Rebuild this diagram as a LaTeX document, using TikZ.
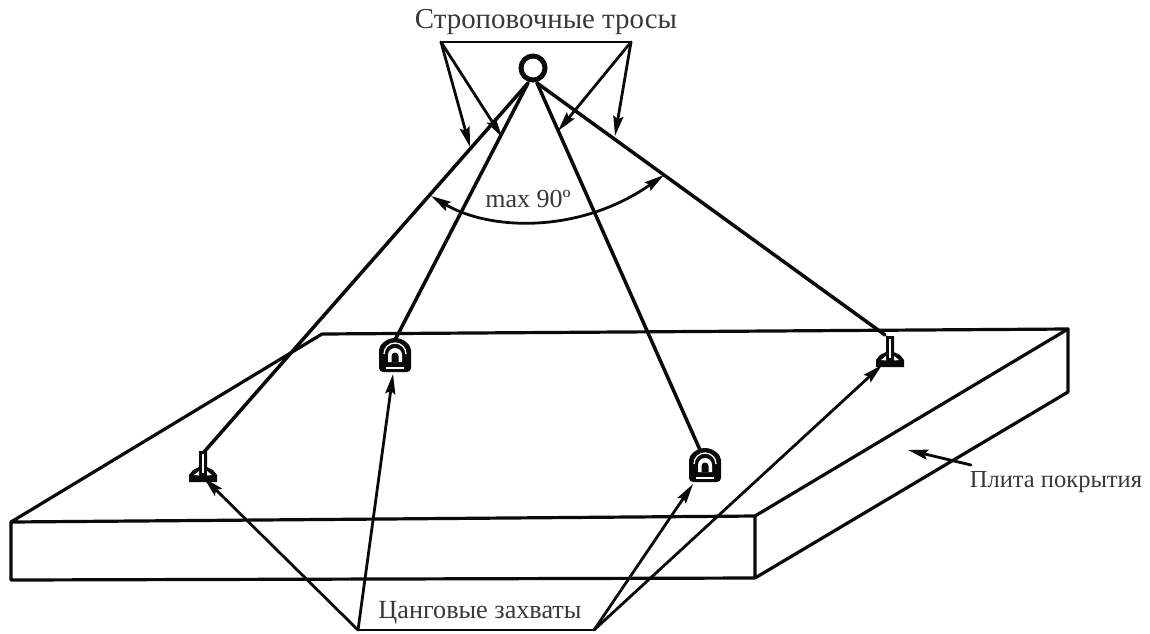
\documentclass[tikz,border=0pt]{standalone}
\usepackage{fontspec}
\setmainfont{Liberation Serif}
\usetikzlibrary{arrows.meta}
\definecolor{inkc}{HTML}{0A0A0A}
\definecolor{txtc}{HTML}{383838}
\tikzset{
  plate/.style={draw=inkc,line width=3.2pt,line join=round,line cap=round},
  cable/.style={draw=inkc,line width=3.5pt,line cap=round},
  leader/.style={draw=inkc,line width=2.8pt,line cap=round},
  tipped/.style={leader,-{Stealth[length=20pt,width=10pt,inset=3pt]}},
  lbl/.style={text=txtc,inner sep=0pt,anchor=center},
  hookring/.style={circle,draw=inkc,line width=5pt,fill=white,minimum size=24pt,inner sep=0pt},
  anchorpt/.style={inner sep=0pt,minimum size=0pt},
  pics/frontgrip/.style={code={
    \fill[inkc,rounded corners=4pt] (-16,16) -- (-16,-2) arc[start angle=180,end angle=360,radius=16] -- (16,16) -- cycle;
    \draw[white,line width=1.3pt] (-11,-2) arc[start angle=180,end angle=360,radius=11];
    \fill[white] (-7,6) -- (-7,-1) arc[start angle=180,end angle=360,radius=7] -- (7,6) -- cycle;
    \fill[inkc] (-3.5,6) -- (-3.5,0) arc[start angle=180,end angle=360,radius=3.5] -- (3.5,6) -- cycle;
    \fill[white] (-9,10.5) rectangle (9,12.5);
  }},
  pics/sidegrip/.style={code={
    \fill[inkc] (-4,-18) -- (4,-18) -- (4,-2) -- (10,1) -- (14,6) -- (14,13) -- (-14,13) -- (-14,6) -- (-10,1) -- (-4,-2) -- cycle;
    \fill[white] (-0.9,-15) rectangle (0.9,4);
    \fill[white] (-9,6) -- (-4,2) -- (-4,6.5) -- cycle;
    \fill[white] (9,6) -- (4,2) -- (4,6.5) -- cycle;
  }}
}
\begin{document}
\begin{tikzpicture}[x=1pt,y=-1pt]
\useasboundingbox (0,0) rectangle (1150,633);
% plate corners
\coordinate (pa) at (322,334);
\coordinate (pb) at (1068,329);
\coordinate (pc) at (755,516);
\coordinate (pd) at (11,522);
\coordinate (pe) at (11,580);
\coordinate (pf) at (755,578);
\coordinate (pg) at (1068,392);
\path[plate] (pa) -- (pb) -- (pc) -- (pd) -- cycle;
\path[plate] (pd) -- (pe) -- (pf) -- (pc);
\path[plate] (pf) -- (pg) -- (pb);
% hook and grips
\node[anchorpt] (gripA) at (204,452) {};
\node[anchorpt] (gripB) at (395,340) {};
\node[anchorpt] (gripC) at (700,450) {};
\node[anchorpt] (gripD) at (885,335) {};
\node[anchorpt] (hookL) at (528,83) {};
\node[anchorpt] (hookR) at (537,83) {};
\path[cable] (hookL.center) -- (gripA.center);
\path[cable] (hookL.center) -- (gripB.center);
\path[cable] (hookR.center) -- (gripC.center);
\path[cable] (hookR.center) -- (gripD.center);
\node[hookring] (hook) at (533,68) {};
\pic at (203,469) {sidegrip};
\pic at (395,356) {frontgrip};
\pic at (705,466) {frontgrip};
\pic at (890,354) {sidegrip};
% top labels and leaders
\node[lbl,font=\fontsize{28.9}{32}\selectfont] (ttop) at (546,22) {Строповочные тросы};
\coordinate (tl) at (441,42);
\coordinate (tr) at (631,42);
\path[leader] (tl) -- (tr);
\coordinate (e1) at (470,147);
\coordinate (e2) at (502,137);
\coordinate (e3) at (558,131);
\coordinate (e4) at (615,136);
\path[tipped] (tl) -- (e1);
\path[tipped] (tl) -- (e2);
\path[tipped] (tr) -- (e3);
\path[tipped] (tr) -- (e4);
% angle
\coordinate (a1) at (431,196);
\coordinate (a2) at (664,175);
\path[leader,{Stealth[length=20pt,width=10pt,inset=3pt]}-{Stealth[length=20pt,width=10pt,inset=3pt]}] (a1) .. controls (490,231) and (580,234) .. (a2);
\node[lbl,font=\fontsize{26}{30}\selectfont] (tang) at (528,199) {max 90º};
% bottom labels and leaders
\node[lbl,font=\fontsize{26.2}{30}\selectfont] (tbot) at (480,613) {Цанговые захваты};
\coordinate (bl) at (358,630);
\coordinate (br) at (594,630);
\path[leader] (bl) -- (br);
\coordinate (f1) at (204,478);
\coordinate (f2) at (393,374);
\coordinate (f3) at (693,484);
\coordinate (f4) at (882,365);
\path[tipped] (bl) -- (f1);
\path[tipped] (bl) -- (f2);
\path[tipped] (br) -- (f3);
\path[tipped] (br) -- (f4);
% plate label
\node[lbl,font=\fontsize{24.5}{28}\selectfont] (tplate) at (1056,482) {Плита покрытия};
\coordinate (p1) at (971,465);
\coordinate (p2) at (908,450);
\path[tipped] (p1) -- (p2);
\end{tikzpicture}
\end{document}
